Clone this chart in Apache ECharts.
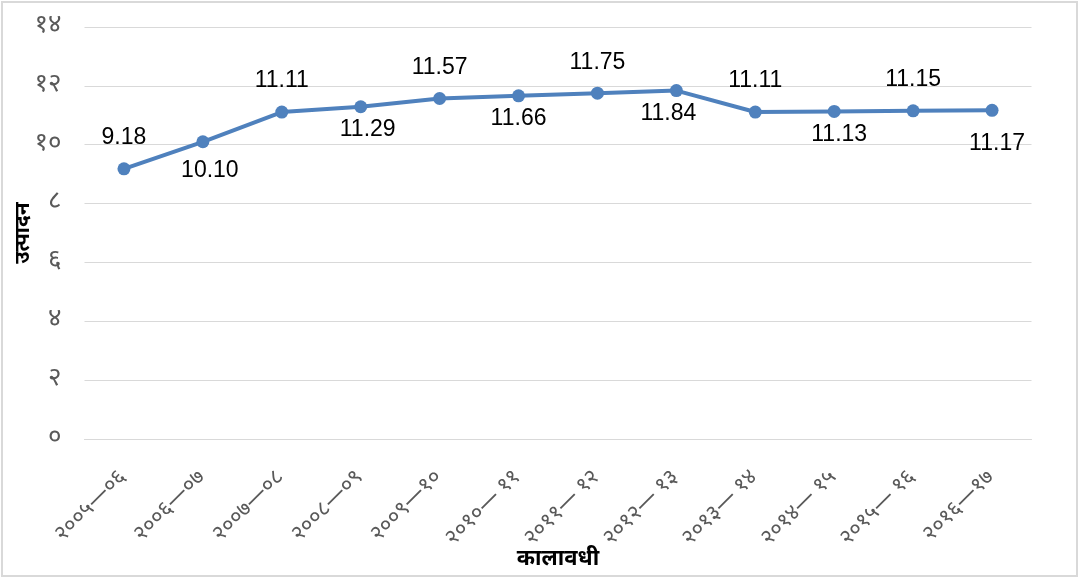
<!DOCTYPE html>
<html>
<head>
<meta charset="utf-8">
<script src="https://cdn.jsdelivr.net/npm/echarts@6/dist/echarts.min.js"></script>
<style>
  html, body { margin: 0; padding: 0; background: #fff; }
  #frame { position: absolute; left: 1px; top: 1px; width: 1073px; height: 572px; border: 2px solid #d9d9d9; }
  #chart { position: absolute; left: 0; top: 0; width: 1080px; height: 577px; }
</style>
</head>
<body>
<div id="frame"></div>
<div id="chart"></div>
<script>
// ---- data ----
const categories = ['२००५—०६', '२००६—०७', '२००७—०८', '२००८—०९', '२००९—१०', '२०१०— ११',
                    '२०११— १२', '२०१२— १३', '२०१३— १४', '२०१४— १५', '२०१५— १६', '२०१६—१७'];
const production = [9.18, 10.10, 11.11, 11.29, 11.57, 11.66, 11.75, 11.84, 11.11, 11.13, 11.15, 11.17];
const yTickLabels = ['०', '२', '४', '६', '८', '१०', '१२', '१४'];
const xAxisName = 'कालावधी';
const yAxisName = 'उत्पादन';

// label placement style (alternating above/below)
const labelSide = ['top', 'bottom', 'top', 'bottom', 'top', 'bottom', 'top', 'bottom', 'top', 'bottom', 'top', 'bottom'];
const labelDx = [0, 7, 0, 7, 0, 0, 0, -8, 0, 5, 0, 5];
const labelDy = [0, 6, 0, 0, 0, 0, 0, 0, 0, 0, 0, 10];

const devFont = '"Noto Sans Devanagari", "Lohit Devanagari", "Noto Sans", sans-serif';
const numFont = '"Liberation Sans", Arial, sans-serif';

const chart = echarts.init(document.getElementById('chart'), null, { renderer: 'canvas' });

const seriesData = production.map((v, i) => ({
  value: v,
  label: {
    position: labelSide[i],
    distance: labelSide[i] === 'top' ? 13 : 5,
    offset: [labelDx[i], labelDy[i]]
  }
}));

chart.setOption({
  animation: false,
  backgroundColor: 'transparent',
  grid: { left: 84.5, right: 48.5, top: 27, bottom: 138, containLabel: false, outerBoundsMode: 'none' },
  xAxis: {
    type: 'category',
    data: categories,
    boundaryGap: true,
    name: xAxisName,
    nameLocation: 'middle',
    nameGap: 111,
    nameMoveOverlap: false,
    nameTextStyle: { fontFamily: devFont, fontSize: 22, fontWeight: 'bold', color: '#000' },
    axisLine: { show: true, lineStyle: { color: '#d9d9d9', width: 1 } },
    axisTick: { show: false },
    axisLabel: { rotate: 45, margin: 36, fontFamily: devFont, fontSize: 22, color: '#595959', interval: 0 }
  },
  yAxis: {
    type: 'value',
    min: 0, max: 14, interval: 2,
    name: yAxisName,
    nameLocation: 'middle',
    nameGap: 49,
    nameRotate: 90,
    nameMoveOverlap: false,
    nameTextStyle: { fontFamily: devFont, fontSize: 21, fontWeight: 'bold', color: '#000' },
    axisLine: { show: false },
    axisTick: { show: false },
    splitLine: { show: true, lineStyle: { color: '#d9d9d9', width: 1 } },
    axisLabel: {
      margin: 23, fontFamily: devFont, fontSize: 26, color: '#595959',
      formatter: (v) => yTickLabels[Math.round(v / 2)]
    }
  },
  series: [{
    type: 'line',
    data: seriesData,
    symbol: 'circle',
    symbolSize: 13,
    lineStyle: { color: '#4f81bd', width: 4 },
    itemStyle: { color: '#4f81bd' },
    label: {
      show: true,
      fontFamily: numFont,
      fontSize: 23,
      color: '#000',
      formatter: (p) => p.value.toFixed(2)
    }
  }]
});
</script>
</body>
</html>
